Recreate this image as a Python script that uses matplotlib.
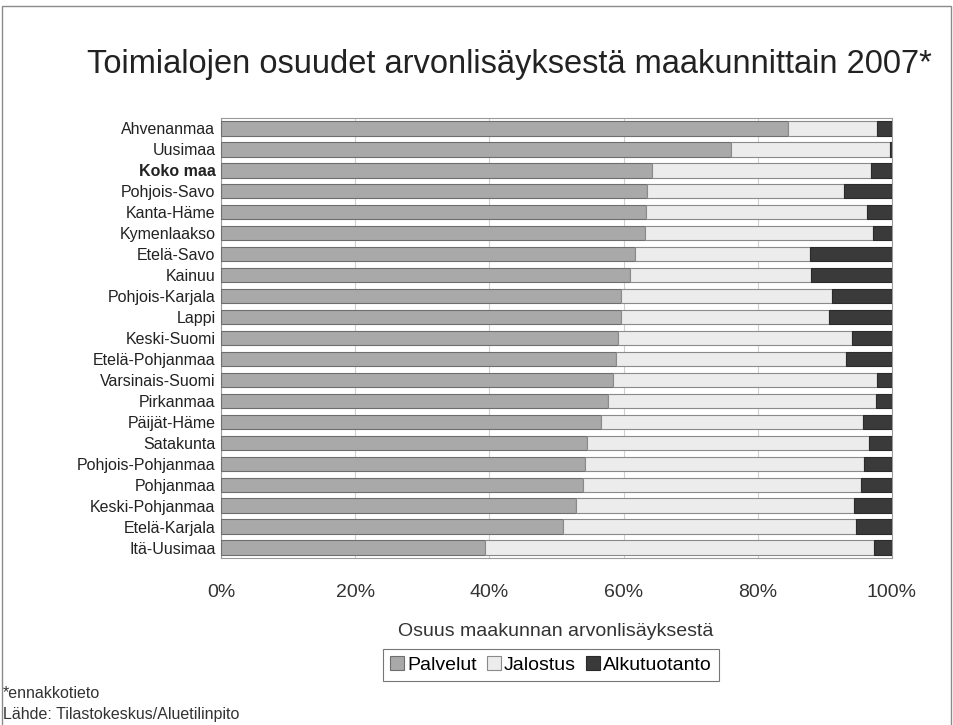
import matplotlib
matplotlib.use("Agg")
import matplotlib.pyplot as plt
from matplotlib.patches import Rectangle
import numpy as np

plt.rcParams['font.family'] = ['Liberation Sans', 'DejaVu Sans']

regions = ["Ahvenanmaa", "Uusimaa", "Koko maa", "Pohjois-Savo", "Kanta-Häme",
           "Kymenlaakso", "Etelä-Savo", "Kainuu", "Pohjois-Karjala", "Lappi",
           "Keski-Suomi", "Etelä-Pohjanmaa", "Varsinais-Suomi", "Pirkanmaa",
           "Päijät-Häme", "Satakunta", "Pohjois-Pohjanmaa", "Pohjanmaa",
           "Keski-Pohjanmaa", "Etelä-Karjala", "Itä-Uusimaa"]
palvelut = [84.5, 76.0, 64.3, 63.5, 63.3, 63.2, 61.7, 61.0, 59.6, 59.6,
            59.2, 58.9, 58.4, 57.7, 56.7, 54.6, 54.2, 53.9, 52.9, 50.9, 39.3]
jalostus = [13.2, 23.7, 32.5, 29.3, 32.9, 33.9, 26.1, 27.0, 31.5, 31.0,
            34.8, 34.3, 39.4, 39.9, 39.0, 42.0, 41.6, 41.5, 41.4, 43.7, 58.0]
alkutuotanto = [2.3, 0.3, 3.2, 7.2, 3.8, 2.9, 12.2, 12.0, 8.9, 9.4,
                6.0, 6.8, 2.2, 2.4, 4.3, 3.4, 4.2, 4.6, 5.7, 5.4, 2.7]
series_names = ["Palvelut", "Jalostus", "Alkutuotanto"]
xticks = [0, 20, 40, 60, 80, 100]
xtick_labels = ["0%", "20%", "40%", "60%", "80%", "100%"]

W, H = 954, 725
fig = plt.figure(figsize=(W/100, H/100), dpi=100)
ax = fig.add_axes([221/W, 1-558/H, (892-221)/W, (558-118)/H])

y = np.arange(len(regions))
p = np.array(palvelut); j = np.array(jalostus); a = np.array(alkutuotanto)
h = 0.68
ax.barh(y, p, height=h, color="#a9a9a9", edgecolor="#6e6e6e", linewidth=0.8, label=series_names[0], zorder=3)
ax.barh(y, j, left=p, height=h, color="#ececec", edgecolor="#8a8a8a", linewidth=0.8, label=series_names[1], zorder=3)
ax.barh(y, a, left=p+j, height=h, color="#3a3a3a", edgecolor="#2a2a2a", linewidth=0.8, label=series_names[2], zorder=3)

ax.set_xlim(0, 100)
ax.set_ylim(len(regions)-0.5, -0.5)
ax.set_yticks(y)
ax.set_yticklabels(regions, fontsize=11.5, color="#222222")
for lbl in ax.get_yticklabels():
    if lbl.get_text() == "Koko maa":
        lbl.set_fontweight("bold")
ax.set_xticks(xticks)
ax.set_xticklabels(xtick_labels, fontsize=14, color="#333333")
ax.tick_params(axis='y', length=0, pad=4)
ax.tick_params(axis='x', length=0, pad=19)
ax.grid(axis='x', color="#cfcfcf", linewidth=0.8, zorder=0)
for s in ax.spines.values():
    s.set_color("#9a9a9a")
    s.set_linewidth(0.8)

ax.set_xlabel("Osuus maakunnan arvonlisäyksestä", fontsize=14, color="#333333")
ax.xaxis.label.set_va("center")
ax.xaxis.set_label_coords((556-221)/(892-221), (558-632)/(558-118))

fig.text(509/W, 1-65/H, "Toimialojen osuudet arvonlisäyksestä maakunnittain 2007*",
         ha="center", va="center", fontsize=23.5, color="#222222")

leg = fig.legend(loc="center", bbox_to_anchor=(551/W, 1-665/H), ncol=3, fontsize=14,
                 frameon=True, fancybox=False, edgecolor="#555555", handlelength=0.75,
                 handleheight=0.75, handletextpad=0.15, columnspacing=0.5, borderpad=0.35)
leg.get_frame().set_linewidth(0.8)

fig.text(3/W, 1-693/H, "*ennakkotieto", ha="left", va="center", fontsize=11.5, color="#333333")
fig.text(3/W, 1-714/H, "Lähde: Tilastokeskus/Aluetilinpito", ha="left", va="center", fontsize=11.5, color="#333333")

fig.patches.append(Rectangle((1.5/W, -0.01), 950/W, 1-6/H+0.01, transform=fig.transFigure,
                             fill=False, edgecolor="#8a8a8a", linewidth=1.0))

fig.savefig("out.png", dpi=100)
